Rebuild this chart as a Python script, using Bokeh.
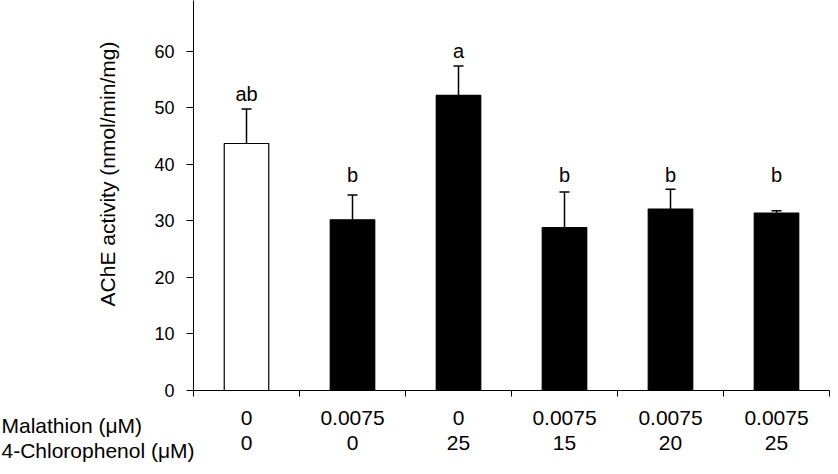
from math import pi
from bokeh.plotting import figure
from bokeh.models import (ColumnDataSource, Range1d, FixedTicker, LinearAxis,
                          Whisker, TeeHead, Label)
from bokeh.core.properties import value
from bokeh.embed import file_html
from bokeh.resources import INLINE

# ---- data ----
malathion = ["0", "0.0075", "0", "0.0075", "0.0075", "0.0075"]
chlorophenol = ["0", "0", "25", "15", "20", "25"]
activity = [43.7, 30.2, 52.2, 28.8, 32.1, 31.4]
sem = [6.1, 4.4, 5.2, 6.3, 3.5, 0.4]
letters = ["ab", "b", "a", "b", "b", "b"]
letter_y = [50.5, 36.2, 58.2, 36.2, 36.2, 36.2]
bar_colors = ["white", "black", "black", "black", "black", "black"]
y_ticks = [0, 10, 20, 30, 40, 50, 60, 70]

FONT = "Liberation Sans"
n = len(activity)
centers = [i + 0.5 for i in range(n)]
src = ColumnDataSource(dict(
    x=centers, top=activity, err=[a + s for a, s in zip(activity, sem)],
    color=bar_colors, letter=letters, ly=letter_y))

p = figure(width=838, height=474, output_backend="svg", toolbar_location=None,
           x_range=Range1d(0, n), y_range=Range1d(0, 69),
           min_border_left=193, min_border_right=9, min_border_top=0,
           min_border_bottom=84, x_axis_location=None, y_axis_location=None)
p.outline_line_color = None
p.xgrid.visible = False
p.ygrid.visible = False
p.background_fill_color = "white"
p.border_fill_color = "white"

p.vbar(x="x", top="top", width=0.42, bottom=0, fill_color="color",
       line_color="black", line_width=1.2, source=src)

p.add_layout(Whisker(base="x", lower="top", upper="err", source=src,
                     line_color="black", line_width=1.5,
                     upper_head=TeeHead(size=10, line_color="black", line_width=1.5),
                     lower_head=None))

p.text(x="x", y="ly", text="letter", source=src, text_align="center",
       text_baseline="bottom", text_font=value(FONT),
       text_font_size="20px", text_color="black")

# y axis
ya = LinearAxis(ticker=FixedTicker(ticks=y_ticks))
ya.axis_line_color = "black"
ya.major_tick_line_color = "black"
ya.major_tick_out = 7
ya.major_tick_in = 0
ya.minor_tick_line_color = None
ya.major_label_standoff = 12
ya.major_label_text_font = FONT
ya.major_label_text_font_size = "18px"
ya.major_label_text_color = "black"
p.add_layout(ya, "left")

# y axis title (in a side panel so it is drawn outside the frame)
p.add_layout(Label(x=118, y=173.5, x_units="canvas", y_units="canvas", angle=pi / 2,
                   text="AChE activity (nmol/min/mg)", text_align="center",
                   text_baseline="bottom", text_font=FONT,
                   text_font_size="21px", text_color="black"), "left")

# x axis 1: boundaries as minor ticks, malathion labels
xa1 = LinearAxis(ticker=FixedTicker(ticks=centers, minor_ticks=list(range(n + 1))))
xa1.axis_line_color = "black"
xa1.major_tick_line_color = None
xa1.minor_tick_line_color = "black"
xa1.minor_tick_out = 6
xa1.minor_tick_in = 0
xa1.major_label_overrides = {c: m for c, m in zip(centers, malathion)}
xa1.major_label_standoff = 14
xa1.major_label_text_font = FONT
xa1.major_label_text_font_size = "21px"
xa1.major_label_text_color = "black"
p.add_layout(xa1, "below")

# row titles (side panel, canvas coordinates)
p.add_layout(Label(x=1, y=436, x_units="canvas", y_units="canvas",
                   text="Malathion (\u03bcM)", text_align="left",
                   text_baseline="bottom", text_font=FONT,
                   text_font_size="21px", text_color="black"), "below")
p.add_layout(Label(x=1, y=461, x_units="canvas", y_units="canvas",
                   text="4-Chlorophenol (\u03bcM)", text_align="left",
                   text_baseline="bottom", text_font=FONT,
                   text_font_size="21px", text_color="black"), "below")

# x axis 2: chlorophenol labels (pulled back up over the title panels)
xa2 = LinearAxis(ticker=FixedTicker(ticks=centers, minor_ticks=[]))
xa2.axis_line_color = None
xa2.major_tick_line_color = None
xa2.minor_tick_line_color = None
xa2.major_label_overrides = {c: m for c, m in zip(centers, chlorophenol)}
xa2.major_label_standoff = -44
xa2.major_label_text_font = FONT
xa2.major_label_text_font_size = "21px"
xa2.major_label_text_color = "black"
p.add_layout(xa2, "below")

open("out.html", "w").write(file_html(p, INLINE))
